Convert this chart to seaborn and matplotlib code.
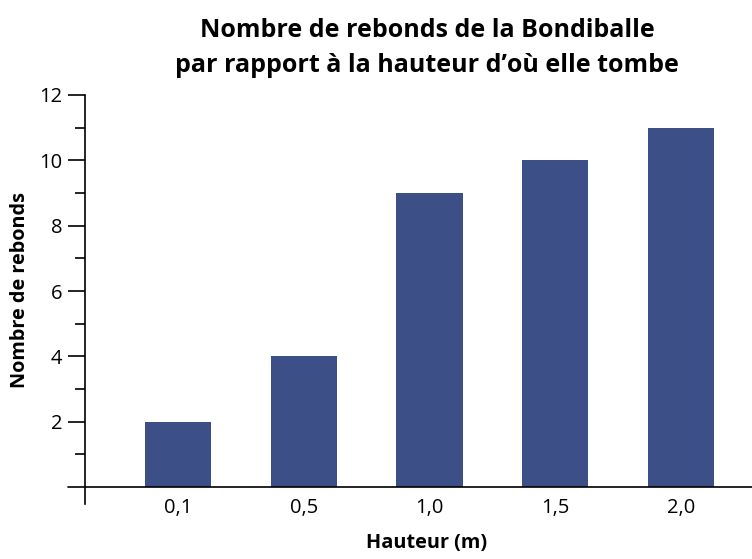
import matplotlib
matplotlib.use("Agg")
import matplotlib.pyplot as plt
import seaborn as sns
import pandas as pd
from matplotlib.ticker import FixedLocator

hauteurs = ["0,1", "0,5", "1,0", "1,5", "2,0"]
rebonds = [2, 4, 9, 10, 11]
bar_color = "#3d4f87"
titre = ["Nombre de rebonds de la Bondiballe",
         "par rapport à la hauteur d’où elle tombe"]

df = pd.DataFrame({"Hauteur": hauteurs, "Rebonds": rebonds})

sns.set_theme(style="white")
plt.rcParams["font.family"] = ["Open Sans", "DejaVu Sans"]

W, H = 752, 559
fig = plt.figure(figsize=(W / 100, H / 100), dpi=100)
# left spine at x=85 px; spine runs from the 12 mark (y=95) down to y=504
ax = fig.add_axes([85 / W, (H - 504) / H, (W - 85) / W, (504 - 95) / H])

sns.barplot(data=df, x="Hauteur", y="Rebonds", color=bar_color, width=0.525,
            saturation=1, linewidth=0, ax=ax)

ax.set_xlim(-0.74, 4.565)
ax.set_ylim(-17 / 32.67, 12)

for s in ["top", "right", "bottom"]:
    ax.spines[s].set_visible(False)
ax.spines["left"].set_color("black")
ax.spines["left"].set_linewidth(1.2)

# baseline at zero, starting a little left of the vertical axis
ax.axhline(0, xmin=-17 / (W - 85), xmax=1, color="black", lw=1.2, clip_on=False)

ax.yaxis.set_major_locator(FixedLocator([2, 4, 6, 8, 10, 12]))
ax.yaxis.set_minor_locator(FixedLocator([1, 3, 5, 7, 9, 11]))
ax.tick_params(axis="y", which="major", left=True, length=17 * 0.72, width=1.2,
               color="black", labelsize=14.5, pad=4, labelcolor="black")
ax.tick_params(axis="y", which="minor", left=True, length=10 * 0.72, width=1.2,
               color="black")
ax.tick_params(axis="x", bottom=False, labelsize=14.5, pad=-10, labelcolor="black")

ax.set_xlabel("Hauteur (m)", fontsize=14.3, fontweight="bold", color="black")
ax.xaxis.set_label_coords((427 - 85) / (W - 85), (504 - 543) / (504 - 95))
ax.xaxis.label.set_va("center")
ax.set_ylabel("Nombre de rebonds", fontsize=14.3, fontweight="bold", color="black")
ax.yaxis.set_label_coords((20 - 85) / (W - 85), (504 - 290) / (504 - 95))
ax.yaxis.label.set_va("center")

for ligne, base in zip(titre, [37, 72]):
    fig.text(427 / W, 1 - base / H, ligne, ha="center", va="baseline",
             fontsize=18, fontweight="bold", color="black")

fig.savefig("out.png", dpi=100)
